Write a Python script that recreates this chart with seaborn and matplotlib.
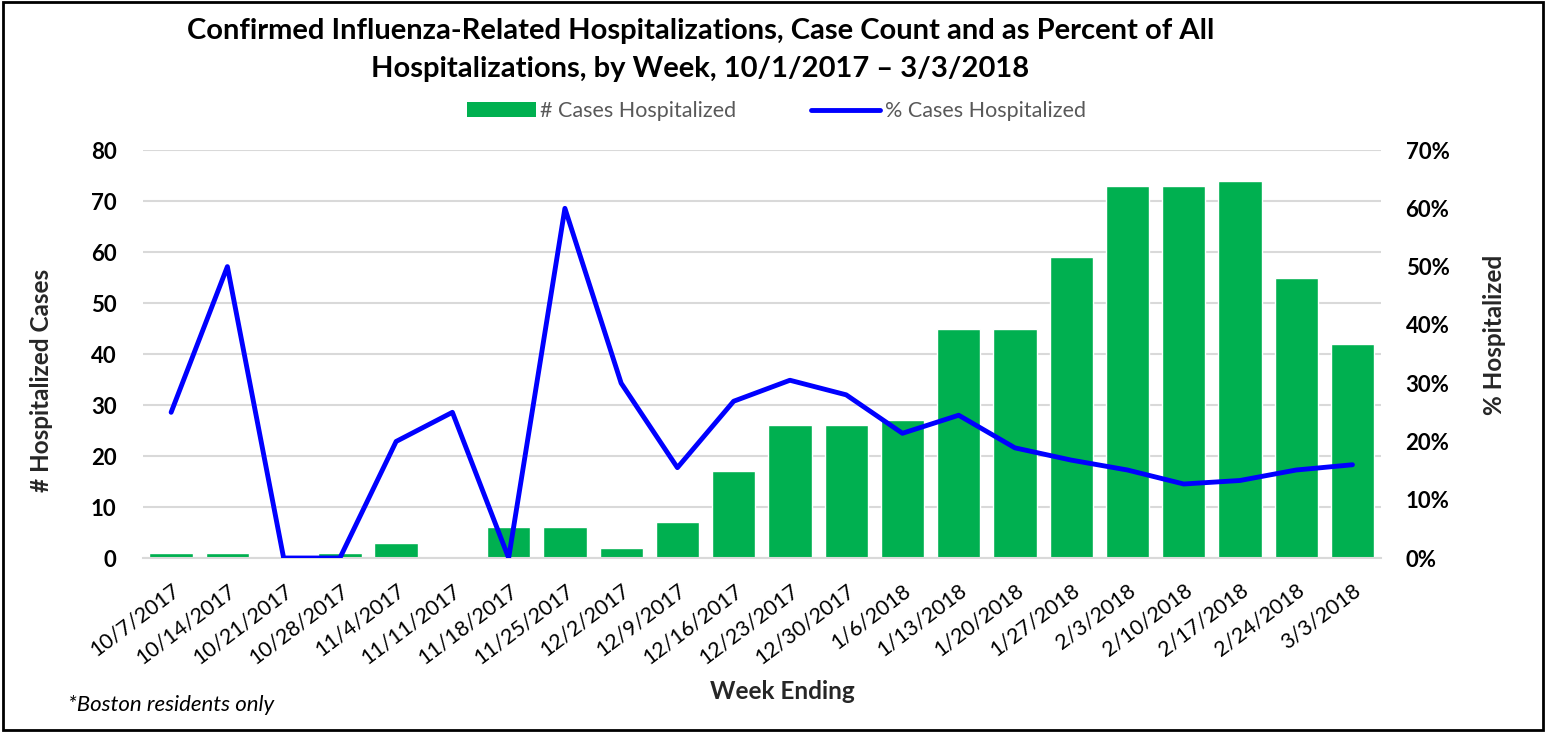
import numpy as np
import pandas as pd
import seaborn as sns
import matplotlib.pyplot as plt
from matplotlib.patches import Patch, Rectangle
from matplotlib.lines import Line2D
from matplotlib.ticker import FuncFormatter

# Data
weeks = ["10/7/2017", "10/14/2017", "10/21/2017", "10/28/2017", "11/4/2017", "11/11/2017",
         "11/18/2017", "11/25/2017", "12/2/2017", "12/9/2017", "12/16/2017", "12/23/2017",
         "12/30/2017", "1/6/2018", "1/13/2018", "1/20/2018", "1/27/2018", "2/3/2018",
         "2/10/2018", "2/17/2018", "2/24/2018", "3/3/2018"]
cases = [1, 1, 0, 1, 3, 0, 6, 6, 2, 7, 17, 26, 26, 27, 45, 45, 59, 73, 73, 74, 55, 42]
pct = [25.0, 50.0, 0.0, 0.0, 20.0, 25.0, 0.0, 60.0, 30.0, 15.5, 26.9, 30.5, 28.0, 21.4,
       24.5, 18.9, 16.8, 15.1, 12.7, 13.3, 15.1, 16.0]

sns.set_style("white")
plt.rcParams["font.family"] = ["Lato", "DejaVu Sans"]
plt.rcParams["text.color"] = "black"

df = pd.DataFrame({"Week": weeks, "Cases": cases, "Pct": pct})
df["x"] = np.arange(len(weeks))

fig = plt.figure(figsize=(15.46, 7.32), dpi=100)
ax = fig.add_axes([0.0925, 0.2377, 0.8005, 0.5573])

sns.barplot(data=df, x="Week", y="Cases", color="#00B050", width=0.77, saturation=1, ax=ax)
ax.set_ylim(0, 80)
ax.set_yticks(range(0, 81, 10))
ax.set_xlim(-0.5, len(weeks) - 0.5)
ax.grid(axis="y", color="#D9D9D9", linewidth=1.5)
ax.set_axisbelow(True)
for s in ["top", "right", "left"]:
    ax.spines[s].set_visible(False)
ax.spines["bottom"].set_color("#D9D9D9")
ax.spines["bottom"].set_linewidth(1.5)

# category boundary ticks on x axis
ax.set_xticks(np.arange(len(weeks)))
ax.set_xticklabels(weeks, rotation=37, ha="right", rotation_mode="anchor", fontsize=15.5)
ax.set_xticks(np.arange(-0.5, len(weeks), 1), minor=True)
ax.tick_params(axis="x", which="major", length=0, pad=16, labelcolor="black")
ax.tick_params(axis="x", which="minor", length=6, color="#D9D9D9", width=1.5)
ax.tick_params(axis="y", length=0, labelsize=16, pad=19, labelcolor="black")
for t in ax.get_yticklabels():
    t.set_fontweight("bold")
ax.set_ylabel("# Hospitalized Cases", fontsize=17.5, fontweight="bold")
ax.yaxis.set_label_coords(-0.0728, 0.436)
ax.set_xlabel("Week Ending", fontsize=17.5, fontweight="bold")
ax.xaxis.set_label_coords(0.517, -0.299)

ax2 = ax.twinx()
sns.lineplot(data=df, x="x", y="Pct", color="#0000FF", linewidth=3.5, ax=ax2)
ax2.set_ylim(0, 70)
ax2.set_yticks(range(0, 71, 10))
ax2.yaxis.set_major_formatter(FuncFormatter(lambda v, p: f"{int(v)}%"))
ax2.tick_params(axis="y", length=0, labelsize=16, pad=18, labelcolor="black")
for t in ax2.get_yticklabels():
    t.set_fontweight("bold")
for s in ax2.spines.values():
    s.set_visible(False)
ax2.set_ylabel("% Hospitalized", fontsize=17.5, fontweight="bold")
ax2.yaxis.set_label_coords(1.0825, 0.547)
ax2.set_xlabel("")

fig.suptitle("Confirmed Influenza-Related Hospitalizations, Case Count and as Percent of All\n"
             "Hospitalizations, by Week, 10/1/2017 \u2013 3/3/2018",
             x=0.453, y=0.976, fontsize=21, fontweight="bold", linespacing=1.6)

handles = [Patch(facecolor="#00B050", edgecolor="none"),
           Line2D([0], [0], color="#0000FF", linewidth=3.5)]
leg = fig.legend(handles, ["# Cases Hospitalized", "% Cases Hospitalized"],
                 loc="center", bbox_to_anchor=(0.502, 0.848), ncol=2, frameon=False,
                 fontsize=15.5, columnspacing=3.5, handlelength=3.2, handletextpad=0.2)
for t in leg.get_texts():
    t.set_color("#595959")

fig.text(0.044, 0.037, "*Boston residents only", fontsize=16, style="italic", va="center")

fig.add_artist(Rectangle((0.002, 0.003), 0.996, 0.994, transform=fig.transFigure,
                         fill=False, edgecolor="black", linewidth=2))

fig.savefig("out.png", dpi=100)
